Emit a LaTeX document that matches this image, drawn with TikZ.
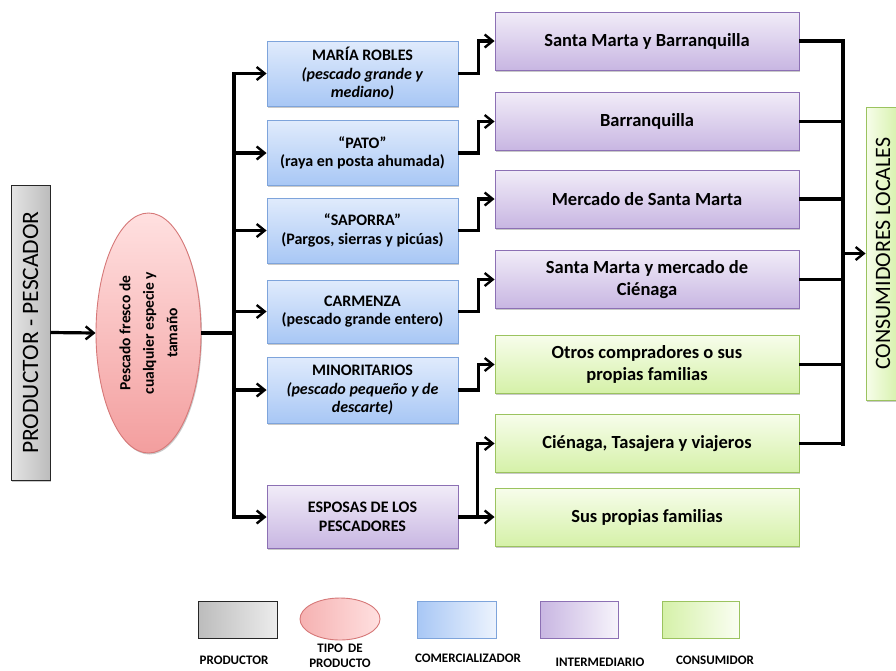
\documentclass[tikz,border=0pt]{standalone}
\usepackage{fontspec}
\setmainfont{Carlito}
\usetikzlibrary{arrows.meta,shapes.geometric,shadows}

% palette
\definecolor{blueTop}{RGB}{224,235,252}
\definecolor{blueBot}{RGB}{168,199,245}
\definecolor{blueLine}{RGB}{126,164,219}
\definecolor{purTop}{RGB}{241,236,248}
\definecolor{purBot}{RGB}{200,182,226}
\definecolor{purLine}{RGB}{140,112,180}
\definecolor{grnTop}{RGB}{247,253,235}
\definecolor{grnBot}{RGB}{213,241,168}
\definecolor{grnLine}{RGB}{155,195,95}
\definecolor{pinkTop}{RGB}{255,224,224}
\definecolor{pinkBot}{RGB}{243,158,158}
\definecolor{pinkLine}{RGB}{214,120,120}
\definecolor{grayDark}{RGB}{188,188,188}
\definecolor{grayLight}{RGB}{236,236,236}

\tikzset{
  shad/.style={drop shadow={shadow xshift=1pt,shadow yshift=-1.5pt,opacity=0.35,fill=black!60}},
  basebox/.style={rectangle, draw, line width=0.9pt, inner sep=2pt, align=center, shad},
  bluebox/.style={basebox, draw=blueLine, top color=blueTop, bottom color=blueBot,
    minimum width=191pt, font=\bfseries\fontsize{16}{18.5}\selectfont},
  purbox/.style={basebox, draw=purLine, top color=purTop, bottom color=purBot,
    minimum width=304pt, minimum height=58pt, font=\bfseries\fontsize{18.5}{22}\selectfont},
  grnbox/.style={basebox, draw=grnLine, top color=grnTop, bottom color=grnBot,
    minimum width=304pt, minimum height=58pt, font=\bfseries\fontsize{18.5}{22}\selectfont},
  link/.style={line width=3.2pt, black},
  arr/.style={link, -{Straight Barb[length=8pt,width=13pt,line width=2.4pt]}},
  legtext/.style={font=\bfseries\fontsize{13}{15}\selectfont, align=center},
}

\begin{document}
\begin{tikzpicture}[x=1pt,y=-1pt]
\clip (0,0) rectangle (896,670);
\fill[white] (0,0) rectangle (896,670);

% producer and product type
\node[rectangle, draw=black!85, line width=1pt, rotate=90, shad,
      left color=grayLight!85!grayDark, right color=grayDark,
      minimum width=295pt, minimum height=39pt, inner sep=0pt,
      font=\fontsize{23.5}{26}\selectfont] (prod) at (30.5,332.5) {PRODUCTOR - PESCADOR};
\node[ellipse, draw=pinkLine, line width=0.9pt, rotate=90, shad,
      top color=pinkTop, bottom color=pinkBot,
      minimum width=240pt, minimum height=105pt, inner sep=0pt, align=center,
      font=\bfseries\fontsize{15.5}{23.5}\selectfont] (tipo) at (148.5,333)
      {Pescado fresco de\\cualquier especie y\\tamaño};

% traders
\node[bluebox, minimum height=65pt] (mr) at (362.5,73.5)
  {MARÍA ROBLES\\\textit{(pescado grande y}\\\textit{mediano)}};
\node[bluebox, minimum height=65pt] (pato) at (362.5,153)
  {“PATO”\\(raya en posta ahumada)};
\node[bluebox, minimum height=65pt] (sap) at (362.5,230.5)
  {“SAPORRA”\\(Pargos, sierras y picúas)};
\node[bluebox, minimum height=63pt] (car) at (362.5,311.5)
  {CARMENZA\\(pescado grande entero)};
\node[bluebox, minimum height=66pt] (min) at (362.5,390)
  {MINORITARIOS\\\textit{(pescado pequeño y de}\\\textit{descarte)}};
\node[bluebox, draw=purLine, top color=purTop, bottom color=purBot,
      minimum height=63pt] (esp) at (362.5,517)
  {ESPOSAS DE LOS\\PESCADORES};

% destinations
\node[purbox] (d1) at (647,41) {Santa Marta y Barranquilla};
\node[purbox] (d2) at (647,121.5) {Barranquilla};
\node[purbox] (d3) at (647,199) {Mercado de Santa Marta};
\node[purbox] (d4) at (647,279.5) {Santa Marta y mercado de\\Ciénaga};
\node[grnbox] (d5) at (647,364.5) {Otros compradores o sus\\propias familias};
\node[grnbox] (d6) at (647,443.5) {Ciénaga, Tasajera y viajeros};
\node[grnbox] (d7) at (647,517) {Sus propias familias};

% final consumers (box runs past the right edge)
\node[rectangle, draw=grnLine, line width=0.9pt, rotate=90, shad,
      left color=grnTop, right color=grnBot,
      minimum width=293pt, minimum height=34pt, inner sep=0pt,
      font=\fontsize{22}{24}\selectfont] (cons) at (883,253.5) {CONSUMIDORES LOCALES};

% producer -> product -> distribution trunk
\coordinate (lt) at (234,74);
\coordinate (lb) at (234,517);
\draw[arr] (prod.south) -- (tipo.north);
\draw[link] (tipo.south) -- (tipo.south -| lt);
\draw[link, line cap=rect] (lt) -- (lb);
\foreach \n in {mr,pato,sap,car,min,esp}
  \draw[arr] (\n.west -| lt) -- (\n.west);

% traders -> destinations
\draw[arr] (mr.east) -- ++(20,0) |- (d1.west);
\draw[arr] (pato.east) -- ++(20,0) |- (d2.west);
\draw[arr] (sap.east) -- ++(20,0) |- (d3.west);
\draw[arr] (car.east) -- ++(20,0) |- (d4.west);
\draw[arr] (min.east) -- ++(20,0) |- (d5.west);
\draw[arr] (esp.east) -- ++(19,0) |- (d6.west);
\draw[arr] (esp.east) -- (d7.west);

% destinations -> local consumers
\coordinate (rt) at (843,41);
\coordinate (rb) at (843,444);
\draw[link, line cap=rect] (rt) -- (rb);
\foreach \n in {d1,d2,d3,d4,d5,d6}
  \draw[link] (\n.east) -- (\n.east -| rt);
\draw[arr] (cons.north -| rt) -- (cons.north);

% legend
\node[rectangle, draw=black!85, line width=1pt, left color=grayDark, right color=grayLight,
      minimum width=79pt, minimum height=37pt] (lg1) at (237.5,619.5) {};
\node[ellipse, draw=pinkLine, line width=0.9pt, left color=pinkBot!80, right color=pinkTop,
      minimum width=80pt, minimum height=42pt] (lg2) at (340,619) {};
\node[rectangle, draw=blueLine, line width=0.9pt, left color=blueBot, right color=blueTop!60,
      minimum width=79pt, minimum height=37pt] (lg3) at (456.5,619.5) {};
\node[rectangle, draw=purLine, line width=0.9pt, left color=purBot, right color=purTop!60,
      minimum width=78pt, minimum height=37pt] (lg4) at (579,619.5) {};
\node[rectangle, draw=grnLine, line width=0.9pt, left color=grnBot, right color=grnTop!60,
      minimum width=77pt, minimum height=37pt] (lg5) at (700.5,619.5) {};

\node[legtext] (t1) at (234,660) {PRODUCTOR};
\node[legtext] (t2) at (340,656) {TIPO \,DE\\PRODUCTO};
\node[legtext] (t3) at (468,658) {COMERCIALIZADOR};
\node[legtext] (t4) at (600,662) {INTERMEDIARIO};
\node[legtext] (t5) at (715,660) {CONSUMIDOR};
\end{tikzpicture}
\end{document}
